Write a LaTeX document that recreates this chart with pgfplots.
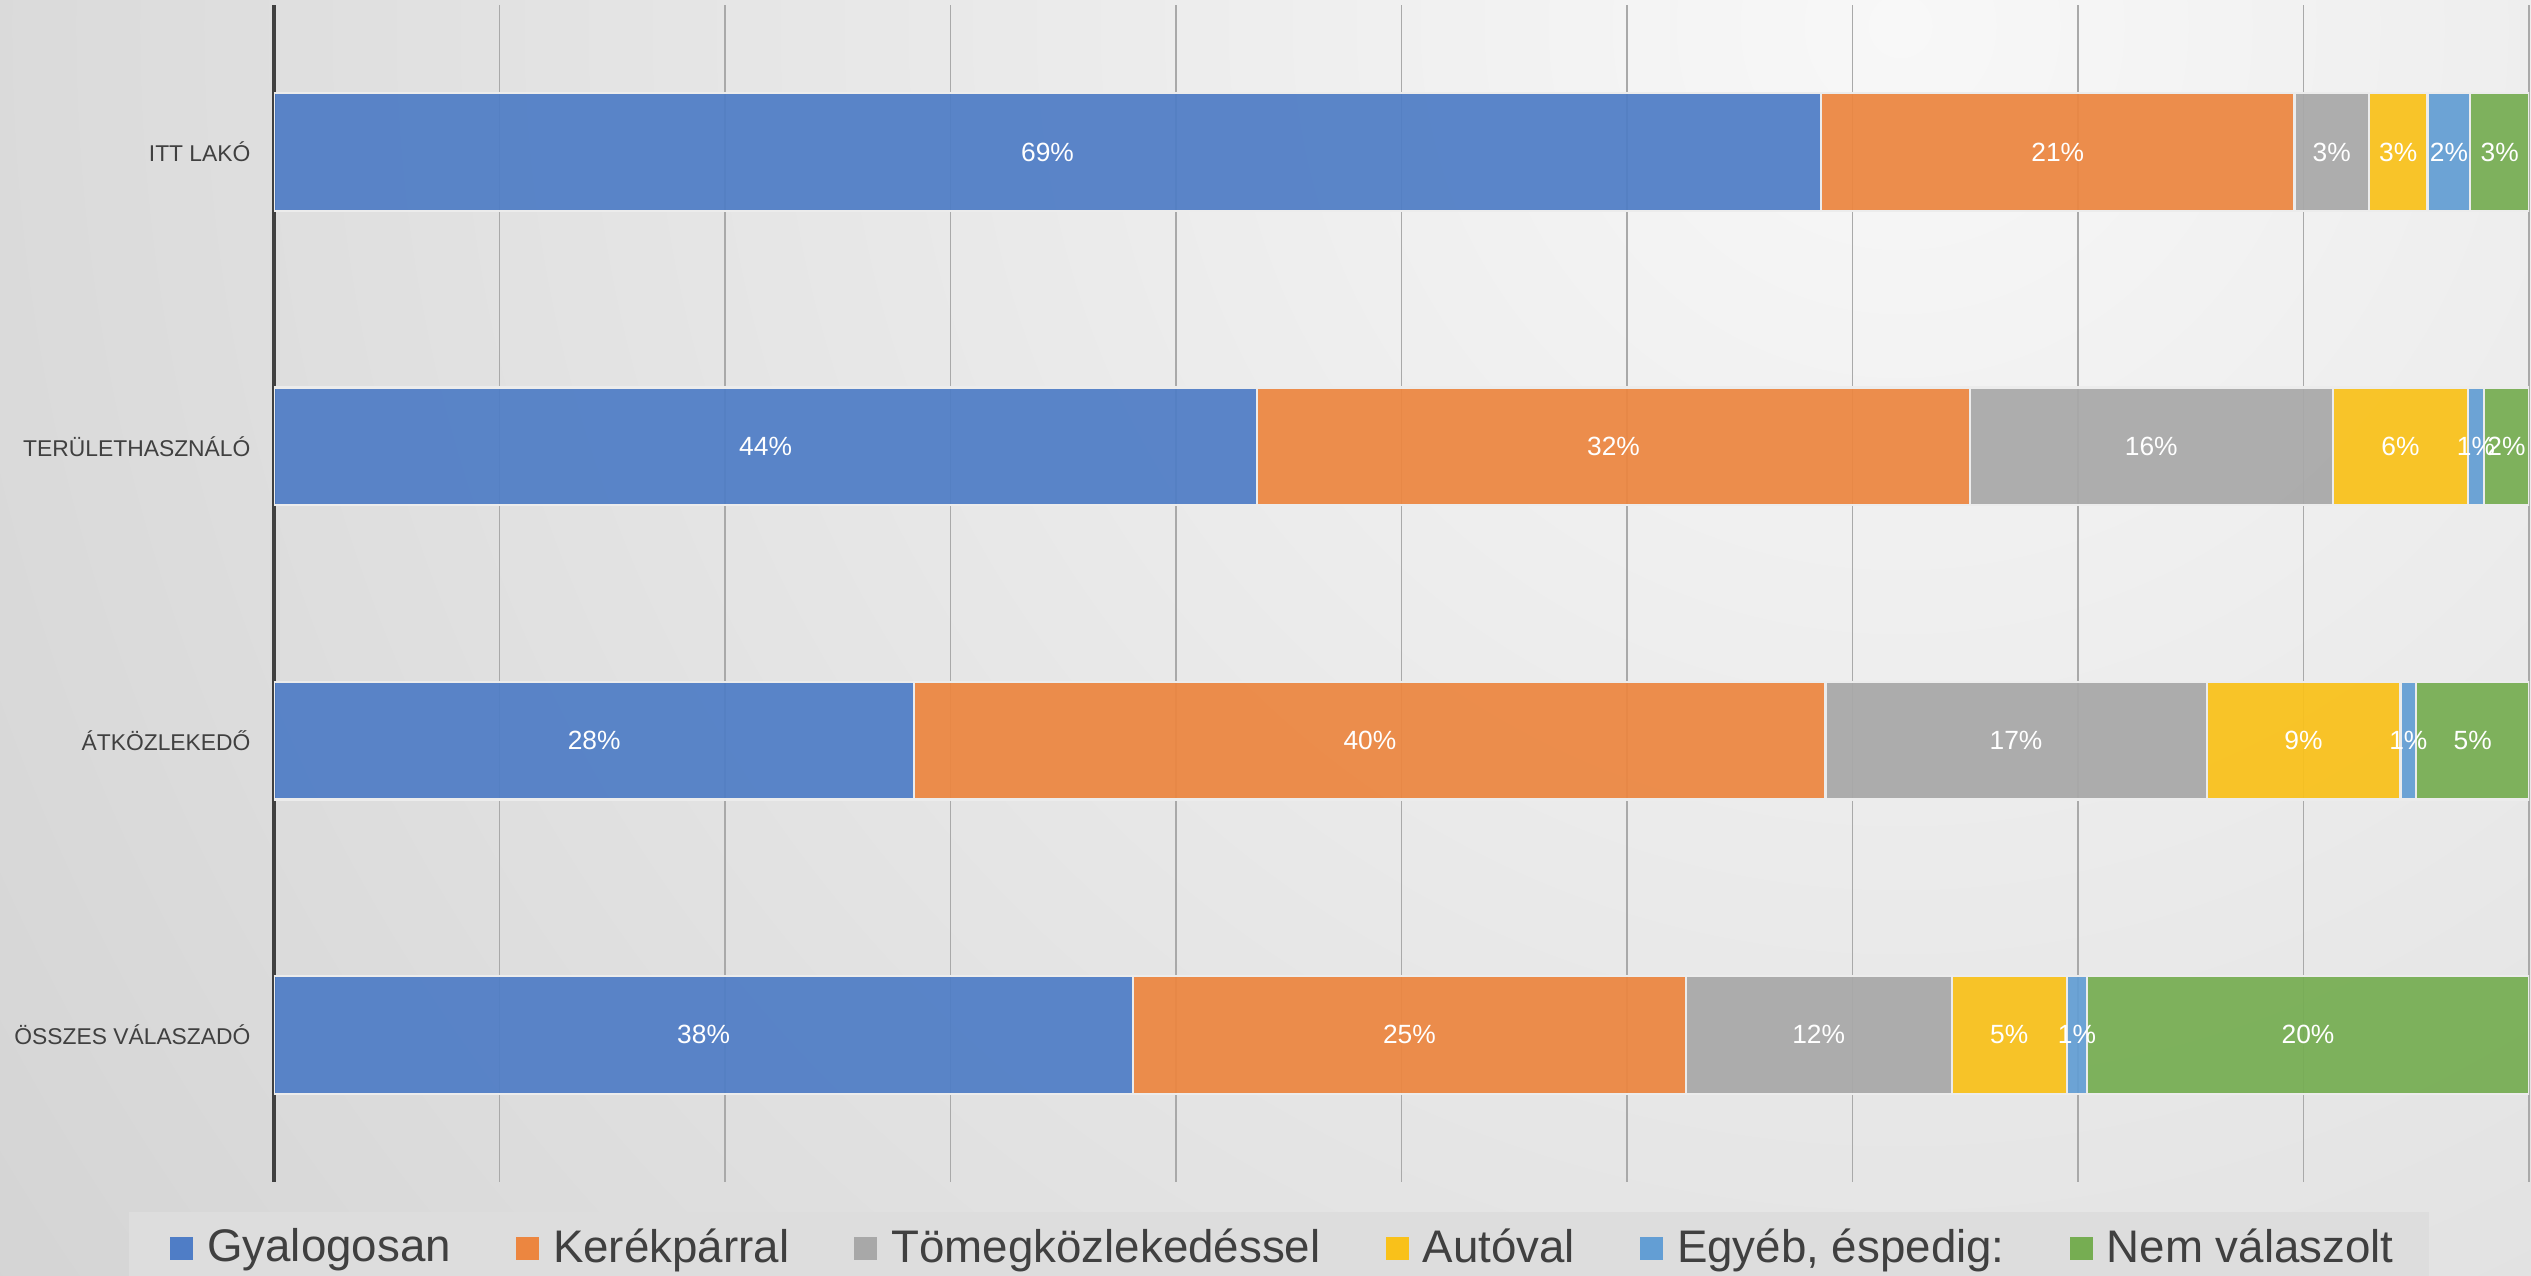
\documentclass[border=0pt]{standalone}
\usepackage{fontspec}
\setmainfont{Liberation Sans}
\usepackage{pgfplots}
\pgfplotsset{compat=1.18}

\definecolor{cBlue}{HTML}{4F7DC6}
\definecolor{cOrange}{HTML}{EC8640}
\definecolor{cGray}{HTML}{A8A8A8}
\definecolor{cYellow}{HTML}{F9C11A}
\definecolor{cLBlue}{HTML}{639ED4}
\definecolor{cGreen}{HTML}{76AD52}
\definecolor{bgIn}{HTML}{F8F8F8}
\definecolor{bgOut}{HTML}{ADADAD}
\definecolor{legBg}{HTML}{DDDDDD}
\definecolor{txt}{HTML}{404040}
\definecolor{gridc}{HTML}{A9A9A9}

\begin{document}
\begin{tikzpicture}
\useasboundingbox (0,0) rectangle (25.31cm,12.76cm);
\begin{scope}
  \clip (0,0) rectangle (25.31cm,12.76cm);
  \shade[inner color=bgIn, outer color=bgOut] (19cm,12.5cm) circle (48cm);
\end{scope}
% legend panel
\fill[legBg] (1.29cm,-0.3cm) rectangle (24.29cm,0.64cm);

% stacked bars: nodes near coords already sit in the middle of each segment
\begin{axis}[
  at={(2.74cm,0.94cm)}, anchor=south west,
  scale only axis,
  width=22.55cm, height=11.77cm,
  xbar stacked,
  bar width=0.4,
  xmin=0, xmax=100,
  ymin=-0.5, ymax=3.5,
  axis lines=left,
  separate axis lines,
  x axis line style={draw=none},
  y axis line style={draw=txt, line width=1.1pt, -},
  xtick={0,10,...,100},
  xticklabels={},
  ytick={0,1,2,3},
  yticklabels={ÖSSZES VÁLASZADÓ, ÁTKÖZLEKEDŐ, TERÜLETHASZNÁLÓ, ITT LAKÓ},
  major tick length=0pt,
  yticklabel style={font=\fontsize{6.5}{8}\selectfont, text=txt, inner sep=0pt, xshift=-6.5pt},
  xmajorgrids,
  grid style={draw=gridc, line width=0.5pt},
  every axis plot/.append style={draw=white!85!gray, line width=0.6pt, fill opacity=0.93},
  nodes near coords={\pgfmathprintnumber[fixed,precision=0,assume math mode=true]{\pgfplotspointmeta}\%},
  point meta=rawx,
  every node near coord/.append style={anchor=center, text=white, text opacity=1,
    font=\fontsize{7.5}{9}\selectfont},
  every axis plot post/.append style={
    legend image code/.code={\fill[##1, draw=none, fill opacity=1] (0cm,-0.115cm) rectangle (0.23cm,0.115cm);}},
  legend columns=6,
  legend style={at={(axis description cs:0.4501,-0.0561)}, anchor=center,
    draw=none, fill=none, text=txt,
    font=\fontsize{13}{15}\selectfont,
    nodes={inner xsep=4pt, inner ysep=1pt},
    /tikz/every even column/.append style={column sep=14.5pt}},
]
\addplot[fill=cBlue] coordinates {(38.1,0) (28.4,1) (43.6,2) (68.6,3)};
\addlegendentry{Gyalogosan}
\addplot[fill=cOrange] coordinates {(24.5,0) (40.4,1) (31.6,2) (21.0,3)};
\addlegendentry{Kerékpárral}
\addplot[fill=cGray] coordinates {(11.8,0) (16.9,1) (16.1,2) (3.3,3)};
\addlegendentry{Tömegközlekedéssel}
\addplot[fill=cYellow] coordinates {(5.1,0) (8.6,1) (6.0,2) (2.6,3)};
\addlegendentry{Autóval}
\addplot[fill=cLBlue] coordinates {(0.9,0) (0.7,1) (0.7,2) (1.9,3)};
\addlegendentry{Egyéb, éspedig:}
\addplot[fill=cGreen] coordinates {(19.6,0) (5.0,1) (2.0,2) (2.6,3)};
\addlegendentry{Nem válaszolt}
\end{axis}
\end{tikzpicture}
\end{document}
